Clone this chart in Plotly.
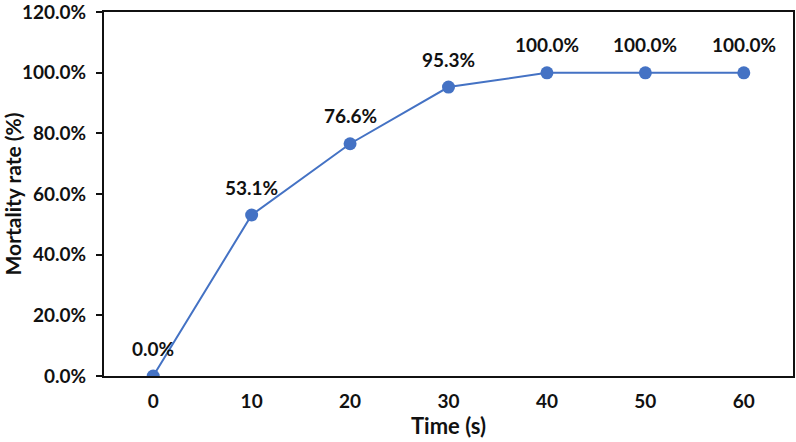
import plotly.graph_objects as go

time_s = [0, 10, 20, 30, 40, 50, 60]
mortality = [0.0, 53.1, 76.6, 95.3, 100.0, 100.0, 100.0]
y_ticks = [0, 20, 40, 60, 80, 100, 120]
y_tick_labels = [f"{v:.1f}%" for v in y_ticks]

font_family = "Lato"
blue = "#4472C4"
txt = "#111111"

fig = go.Figure()
fig.add_trace(go.Scatter(
    x=time_s, y=mortality, mode="lines+markers",
    line=dict(color=blue, width=2),
    marker=dict(color=blue, size=13),
    showlegend=False, hoverinfo="skip",
))

for xv, yv in zip(time_s, mortality):
    fig.add_annotation(x=xv, y=yv, text=f"{yv:.1f}%", showarrow=False,
                       yshift=28, font=dict(family=font_family, size=19, color=txt, weight="bold"))

fig.update_layout(
    width=796, height=442,
    margin=dict(l=104, r=3, t=12, b=66),
    paper_bgcolor="white", plot_bgcolor="white",
    font=dict(family=font_family, size=19, color=txt, weight="bold"),
)
fig.update_xaxes(
    range=[-5, 65], tickvals=time_s, ticktext=[str(t) for t in time_s],
    showgrid=False, zeroline=False, showline=True, linecolor="#111", linewidth=2,
    mirror=True, ticks="", ticklen=0, automargin=False, ticklabelstandoff=7,
    tickfont=dict(family=font_family, size=19, weight="bold", color=txt),
    title=dict(text="Time (s)", font=dict(family=font_family, size=22, weight="bold", color=txt), standoff=8),
)
fig.update_yaxes(
    range=[0, 120.05], tickvals=y_ticks, ticktext=y_tick_labels,
    showgrid=False, zeroline=False, showline=True, linecolor="#111", linewidth=2,
    mirror=True, ticks="outside", ticklen=6, tickcolor="#111", tickwidth=2, automargin=False,
    ticklabeloverflow="allow", ticklabelstandoff=6,
    tickfont=dict(family=font_family, size=19, weight="bold", color=txt),
    title=dict(text="Mortality rate (%)", font=dict(family=font_family, size=21, weight="bold", color=txt), standoff=10),
)

fig.write_html("out.html", config={"displayModeBar": False},
               post_script="document.body.style.margin='0';")
